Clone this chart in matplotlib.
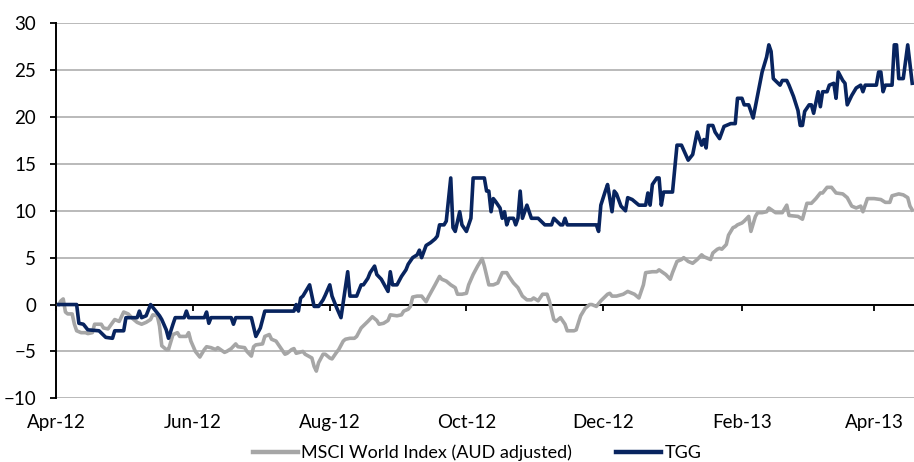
import pandas as pd
import matplotlib
matplotlib.use("Agg")
import matplotlib.pyplot as plt
import matplotlib.dates as mdates

plt.rcParams["font.family"] = ["Lato", "DejaVu Sans"]

# 起始日期，天数偏移量都相对于它
start_date = pd.Timestamp("2012-04-01")

# MSCI World Index (AUD adjusted) 累计表现 (%)
msci_day = [1, 2, 3, 4, 5, 7, 8, 9, 11, 13, 14, 16, 17, 20, 21, 23, 26, 28, 30, 32,
            34, 36, 38, 40, 42, 43, 45, 46, 47, 49, 50, 52, 54, 55, 58, 59, 60, 62, 64, 66,
            67, 69, 71, 72, 75, 76, 78, 80, 81, 84, 85, 87, 88, 89, 92, 93, 95, 96, 98, 100,
            102, 103, 105, 106, 107, 110, 111, 114, 115, 116, 117, 119, 120, 122, 123, 125, 126, 128, 129, 131,
            133, 134, 136, 139, 141, 143, 144, 146, 148, 149, 152, 154, 155, 157, 158, 159, 161, 163, 165, 166,
            169, 171, 172, 174, 176, 178, 179, 181, 183, 184, 186, 188, 190, 191, 193, 195, 197, 199, 201, 202,
            204, 206, 208, 210, 212, 213, 215, 217, 219, 220, 222, 223, 225, 227, 228, 231, 232, 234, 236, 238,
            239, 241, 243, 246, 247, 248, 250, 253, 255, 258, 260, 262, 263, 266, 268, 269, 272, 274, 275, 277,
            279, 280, 282, 284, 286, 288, 289, 292, 293, 295, 296, 297, 299, 300, 302, 303, 304, 306, 307, 309,
            310, 312, 313, 315, 317, 318, 321, 324, 326, 327, 331, 333, 335, 337, 339, 341, 342, 344, 346, 348,
            351, 353, 355, 357, 359, 360, 362, 365, 368, 370, 372, 373, 376, 378, 380, 381, 382]
msci_val = [0.0, 0.4, 0.6, -0.8, -1.0, -1.0, -2.1, -2.8, -3.0, -3.0, -3.1, -3.0, -2.1, -2.1, -2.5, -2.6, -1.6, -1.8, -0.8, -1.0,
            -1.5, -1.9, -2.1, -1.9, -1.6, -1.1, -1.2, -2.3, -4.4, -4.8, -4.8, -3.2, -3.0, -3.4, -3.4, -3.0, -3.9, -5.0, -5.6, -4.8,
            -4.5, -4.6, -4.8, -4.6, -5.1, -5.0, -4.7, -4.2, -4.5, -4.6, -5.0, -5.5, -4.5, -4.3, -4.2, -3.4, -3.2, -3.7, -3.9, -4.6,
            -5.3, -5.2, -4.8, -4.7, -5.2, -5.0, -5.3, -5.7, -6.6, -7.1, -6.2, -5.3, -5.3, -5.7, -5.8, -5.1, -4.8, -3.9, -3.7, -3.6,
            -3.6, -3.4, -2.5, -1.8, -1.3, -1.7, -2.1, -2.0, -1.7, -1.1, -1.2, -1.1, -0.7, -0.5, -0.2, 0.8, 0.9, 0.9, 0.3, 0.8,
            2.1, 3.0, 2.7, 2.5, 2.1, 1.8, 1.1, 1.1, 1.2, 2.1, 3.2, 4.1, 4.9, 4.1, 2.1, 2.1, 2.3, 3.4, 3.4, 3.0,
            2.3, 1.8, 0.9, 0.5, 0.5, 0.7, 0.4, 1.1, 1.1, 0.4, -1.6, -1.8, -1.4, -2.1, -2.8, -2.8, -2.7, -1.2, -0.4, 0.0,
            0.0, -0.2, 0.4, 1.1, 1.2, 0.9, 0.9, 1.1, 1.4, 1.1, 0.7, 2.1, 3.4, 3.5, 3.5, 3.7, 3.2, 2.7, 3.4, 4.6,
            4.8, 5.0, 4.6, 4.4, 4.8, 5.3, 5.1, 4.8, 5.5, 5.9, 6.0, 5.9, 6.4, 7.4, 8.2, 8.3, 8.5, 8.7, 8.9, 9.4,
            7.8, 9.4, 9.8, 9.8, 9.9, 10.3, 9.8, 9.8, 10.6, 9.5, 9.4, 9.1, 10.8, 10.8, 11.3, 11.9, 11.9, 12.5, 12.5, 11.9,
            11.8, 11.4, 10.5, 10.3, 10.5, 9.9, 11.3, 11.3, 11.2, 10.9, 10.9, 11.6, 11.8, 11.7, 11.4, 10.5, 10.1]

# TGG 累计表现 (%)
tgg_day = [1, 9, 10, 12, 14, 19, 22, 25, 26, 30, 31, 36, 37, 38, 40, 42, 46, 47, 49, 50,
           52, 53, 57, 58, 59, 66, 67, 68, 69, 78, 79, 80, 87, 89, 91, 93, 106, 107, 108, 109,
           110, 113, 115, 117, 119, 120, 122, 123, 125, 127, 130, 131, 134, 136, 137, 139, 140, 142, 143, 145,
           148, 149, 150, 152, 154, 156, 157, 159, 161, 162, 163, 165, 167, 169, 170, 171, 173, 174, 176, 177,
           178, 180, 181, 183, 185, 186, 191, 192, 193, 194, 195, 196, 198, 199, 200, 201, 202, 204, 205, 206,
           207, 208, 209, 210, 212, 215, 218, 221, 222, 225, 226, 227, 228, 241, 242, 243, 245, 246, 248, 249,
           250, 252, 254, 255, 257, 260, 263, 264, 265, 266, 268, 269, 270, 271, 275, 277, 279, 282, 284, 286,
           288, 289, 290, 291, 293, 294, 296, 298, 299, 301, 303, 304, 306, 307, 309, 311, 314, 315, 317, 318,
           319, 320, 323, 324, 326, 327, 329, 331, 332, 333, 334, 336, 337, 338, 340, 341, 342, 344, 345, 347,
           348, 349, 351, 352, 353, 355, 357, 359, 360, 361, 366, 367, 368, 369, 370, 373, 374, 375, 376, 378,
           380, 382]
tgg_val = [0.0, 0.0, -2.0, -2.1, -2.7, -2.8, -3.5, -3.6, -2.8, -2.8, -1.4, -1.4, -0.7, -1.4, -1.2, 0.0, -1.2, -1.6, -2.7, -3.6,
           -2.1, -1.4, -1.4, -0.7, -1.4, -1.4, -0.8, -2.0, -1.4, -1.4, -2.1, -1.4, -1.4, -3.4, -2.5, -0.7, -0.7, 0.0, -0.7, 0.7,
           0.9, 2.1, -0.2, -0.2, 0.5, 1.0, 2.1, 0.9, -0.3, -1.4, 3.5, 0.9, 0.9, 2.1, 2.1, 2.8, 3.4, 4.1, 3.2, 2.7,
           1.4, 3.5, 2.1, 2.1, 3.0, 3.7, 4.3, 5.0, 5.3, 5.8, 5.0, 6.3, 6.6, 7.0, 7.3, 8.5, 8.5, 8.9, 13.5, 8.2,
           7.8, 9.9, 8.5, 7.8, 9.2, 13.5, 13.5, 12.1, 12.1, 9.9, 11.3, 11.0, 10.3, 9.2, 9.9, 8.5, 9.2, 9.2, 8.5, 9.2,
           12.1, 9.2, 9.9, 10.6, 9.2, 9.2, 8.5, 8.5, 9.2, 8.5, 8.5, 9.2, 8.5, 8.5, 7.8, 10.6, 12.1, 12.8, 9.9, 12.1,
           11.8, 10.5, 10.0, 11.4, 11.2, 10.6, 10.6, 11.9, 10.6, 12.8, 13.5, 13.5, 10.6, 12.0, 12.0, 17.0, 17.0, 15.4, 16.0, 18.4,
           17.0, 17.6, 16.7, 19.1, 19.1, 18.4, 17.7, 19.0, 19.1, 19.3, 19.3, 22.0, 22.0, 21.3, 21.3, 19.9, 23.6, 24.8, 26.4, 27.7,
           27.0, 24.1, 23.4, 23.9, 23.9, 23.4, 22.2, 20.7, 19.1, 19.1, 20.6, 21.3, 21.3, 20.4, 22.7, 21.1, 22.7, 22.7, 23.4, 23.6,
           22.0, 24.8, 23.9, 23.6, 21.3, 22.3, 23.1, 23.4, 22.7, 23.4, 23.4, 24.8, 24.8, 22.7, 23.4, 23.4, 27.7, 27.7, 24.1, 24.1,
           27.7, 23.6]

msci_dates = start_date + pd.to_timedelta(msci_day, unit="D")
tgg_dates = start_date + pd.to_timedelta(tgg_day, unit="D")

y_ticks = [-10, -5, 0, 5, 10, 15, 20, 25, 30]

fig = plt.figure(figsize=(9.14, 4.62), dpi=100)
ax = fig.add_axes([0.0618, 0.1379, 0.9382, 0.8117])

ax.plot(msci_dates, msci_val, color="#A6A6A6", lw=2.6, zorder=3,
        solid_joinstyle="round", label="MSCI World Index (AUD adjusted)")
ax.plot(tgg_dates, tgg_val, color="#08245F", lw=2.6, zorder=4,
        solid_joinstyle="round", label="TGG")

ax.set_xlim(start_date, start_date + pd.Timedelta(days=382.8))
ax.set_ylim(-10, 30)
ax.set_yticks(y_ticks)

# 横向网格线
ax.grid(axis="y", color="#B4B4B4", lw=1.3)
ax.set_axisbelow(True)

# x 轴放在 0 的位置，刻度标签放到底部
ax.spines["bottom"].set_position(("data", 0))
ax.spines["bottom"].set_color("black")
ax.spines["bottom"].set_linewidth(1.4)
ax.spines["left"].set_linewidth(1.4)
ax.spines["top"].set_visible(False)
ax.spines["right"].set_visible(False)

ax.xaxis.set_major_locator(mdates.MonthLocator(bymonth=[2, 4, 6, 8, 10, 12]))
ax.xaxis.set_major_formatter(mdates.DateFormatter("%b-%y"))
ax.tick_params(axis="x", direction="out", length=4, width=1.3, pad=75,
               labelsize=13.5, colors="black")
ax.tick_params(axis="y", direction="out", length=4.5, width=1.3, pad=10,
               labelsize=13.5)

leg = fig.legend(loc="center", bbox_to_anchor=(477 / 914, 1 - 453 / 462), ncol=2,
                 frameon=False, fontsize=13, handlelength=2.5, handletextpad=0.2,
                 columnspacing=2.4)
for line in leg.get_lines():
    line.set_linewidth(3.2)

plt.savefig("out.png", dpi=100)
